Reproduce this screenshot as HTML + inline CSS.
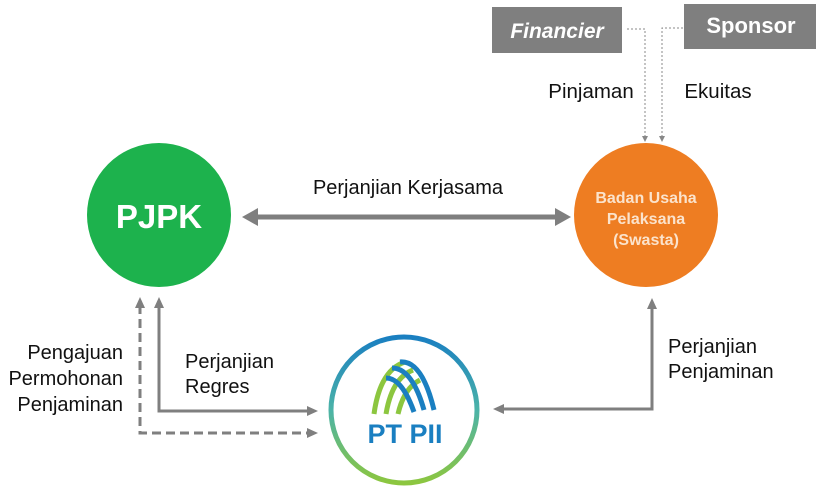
<!DOCTYPE html>
<html><head><meta charset="utf-8"><style>
body{margin:0;background:#fff;}
svg{display:block;font-family:"Liberation Sans",Arial,sans-serif;}
</style></head><body>
<svg width="816" height="488" viewBox="0 0 816 488" xmlns="http://www.w3.org/2000/svg">
<defs>
<linearGradient id="g" x1="0" y1="0" x2="0" y2="1">
<stop offset="0" stop-color="#1a7fc1"/><stop offset="0.5" stop-color="#4bb3a8"/><stop offset="1" stop-color="#8cc63f"/>
</linearGradient>
</defs>
<rect x="492" y="7" width="130" height="46" fill="#7f7f7f"/>
<text x="557" y="38" font-size="21" font-weight="bold" font-style="italic" fill="#fff" text-anchor="middle">Financier</text>
<rect x="684" y="4" width="132" height="45" fill="#7f7f7f"/>
<text x="751" y="33" font-size="22" font-weight="bold" fill="#fff" text-anchor="middle">Sponsor</text>
<g stroke="#888" stroke-width="1" stroke-dasharray="2,2" fill="none">
<path d="M627 29 H645 V137"/><path d="M683 28 H662 V137"/>
</g>
<path d="M642 136 L648 136 L645 142Z M659 136 L665 136 L662 142Z" fill="#888"/>
<text x="591" y="98" font-size="20.5" fill="#111" text-anchor="middle">Pinjaman</text>
<text x="718" y="98" font-size="20.5" fill="#111" text-anchor="middle">Ekuitas</text>
<circle cx="159" cy="215" r="72" fill="#1db24d"/>
<text x="159" y="228" font-size="33" font-weight="bold" fill="#fff" text-anchor="middle">PJPK</text>
<circle cx="646" cy="215" r="72" fill="#ee7d22"/>
<g font-size="16" font-weight="bold" fill="#fbe3cc" text-anchor="middle">
<text x="646" y="203">Badan Usaha</text><text x="646" y="224">Pelaksana</text><text x="646" y="245">(Swasta)</text>
</g>
<line x1="255" y1="217" x2="558" y2="217" stroke="#7f7f7f" stroke-width="5"/>
<path d="M242 217 L258 208 L258 226Z M571 217 L555 208 L555 226Z" fill="#7f7f7f"/>
<text x="408" y="194" font-size="20" fill="#111" text-anchor="middle">Perjanjian Kerjasama</text>
<circle cx="404" cy="410" r="73" fill="#fff" stroke="url(#g)" stroke-width="5"/>
<g fill="none" stroke-width="5">
<path d="M374 414 Q380 370 405 362" stroke="#8cc63f"/>
<path d="M386 414 Q392 378 413 370" stroke="#8cc63f"/>
<path d="M398 414 Q404 388 420 380" stroke="#8cc63f"/>
<path d="M392 368 Q412 368 424 410" stroke="#1a7fc1"/>
<path d="M400 362 Q422 360 434 410" stroke="#1a7fc1"/>
<path d="M386 378 Q402 378 414 412" stroke="#1a7fc1"/>
</g>
<text x="405" y="443" font-size="27" font-weight="bold" fill="#1a7fc1" text-anchor="middle">PT PII</text>
<g stroke="#7f7f7f" stroke-width="3" fill="none">
<path d="M159 305 V411 H308"/>
<path d="M140 305 V433 H308" stroke-dasharray="9,5"/>
<path d="M652 306 V409 H503"/>
</g>
<path d="M159 297 L154 308 L164 308Z M140 297 L135 308 L145 308Z M318 411 L307 406 L307 416Z M318 433 L307 428 L307 438Z M652 298 L647 309 L657 309Z M493 409 L504 404 L504 414Z" fill="#7f7f7f"/>
<g font-size="20" fill="#111">
<text x="123" y="359" text-anchor="end">Pengajuan</text>
<text x="123" y="385" text-anchor="end">Permohonan</text>
<text x="123" y="411" text-anchor="end">Penjaminan</text>
<text x="185" y="368">Perjanjian</text>
<text x="185" y="393">Regres</text>
<text x="668" y="353">Perjanjian</text>
<text x="668" y="378">Penjaminan</text>
</g>
</svg>
</body></html>
